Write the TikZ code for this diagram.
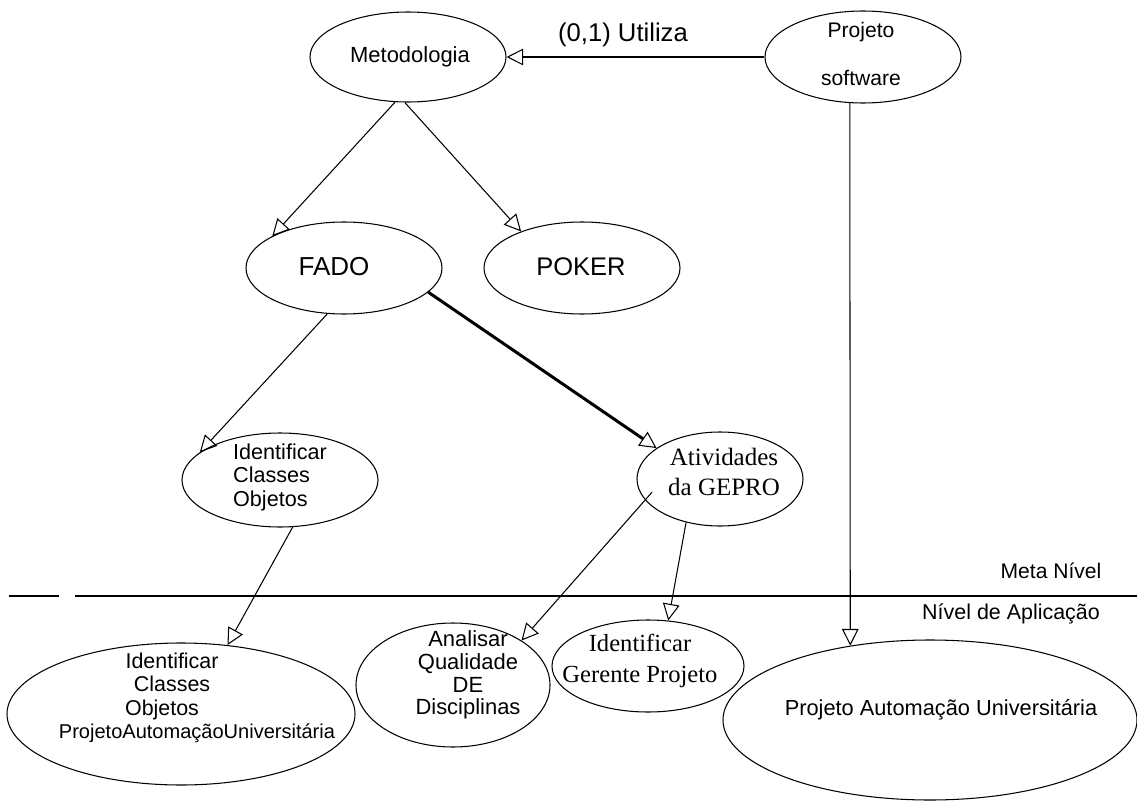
\documentclass[tikz,border=0pt]{standalone}
\usepackage{fontspec}
\setmainfont{Liberation Sans}
\newfontfamily\timesfont{Liberation Serif}
\usetikzlibrary{arrows.meta,shapes.geometric,calc}
\newcommand\fsz[2]{\fontsize{#1}{#2}\selectfont}

\begin{document}
\begin{tikzpicture}[x=0.02cm,y=-0.02cm,
  ell/.style 2 args={draw,ellipse,line width=0.6pt,inner sep=0pt,
    minimum width=#1*0.02cm,minimum height=#2*0.02cm},
  txt/.style={inner sep=0pt,align=center},
  link/.style={line width=0.6pt,-{Triangle[open,length=9.5pt,width=9.5pt,line width=0.6pt]}},
  heavy/.style={link,line width=1.7pt},
  rule/.style={line width=0.6pt}
]
\useasboundingbox (0,0) rectangle (1137,801);

% ellipses
\node[ell={196}{90}]  (met)   at (408,57)  {};
\node[ell={196}{92}]  (psw)   at (863,57)  {};
\node[ell={196}{92}]  (fado)  at (344,268) {};
\node[ell={196}{92}]  (poker) at (582,268) {};
\node[ell={196}{94}]  (icoA)  at (280,480) {};
\node[ell={166}{94}]  (atv)   at (720,479) {};
\node[ell={192}{92}]  (ger)   at (648,666) {};
\node[ell={194}{124}] (ana)   at (453,685) {};
\node[ell={348}{142}] (icoB)  at (181,714) {};
\node[ell={414}{160}] (pau)   at (930,720) {};

% texts
\node[txt,font=\fsz{12.5}{15}] (tmet) at (410,57) {Metodologia};
\node[txt,font=\fsz{12}{27}] (tpsw) at (861,54) {Projeto\\software};
\node[txt,font=\fsz{14.8}{17}] (tfado) at (334,267) {FADO};
\node[txt,font=\fsz{14.5}{17}] (tpoker) at (581,267) {POKER};
\node[txt,align=left,font=\fsz{12.3}{13.4}] (ticoA) at (280,477) {Identificar\\Classes\\Objetos};
\node[txt,font=\timesfont\fsz{14.2}{17}] (tatv) at (724,472) {Atividades\\da GEPRO};
\node[txt,font=\timesfont\fsz{14}{17.6}] (tger) at (640,661) {Identificar\\Gerente Projeto};
\node[txt,font=\fsz{12.5}{12.9}] (tana) at (468,675) {Analisar\\Qualidade\\DE\\Disciplinas};
\node[txt,font=\fsz{12.2}{13.3}] (ticoB) at (197,698)
  {\hbox{Identificar\kern28.4pt}\\\hbox{Classes\kern28.4pt}\\\hbox{Objetos\kern39.8pt}\\{\fsz{11.4}{13.3}ProjetoAutomaçãoUniversitária}};
\node[txt,font=\fsz{12.4}{15}] (tpau) at (941,710) {Projeto Automação Universitária};
\node[txt,font=\fsz{14.6}{17}] (tuse) at (623,35) {(0,1) Utiliza};
\node[txt,font=\fsz{12}{15}] (tmeta) at (1051,571) {Meta Nível};
\node[txt,font=\fsz{12.2}{15}] (tapl) at (1011,614) {Nível de Aplicação};

% separator between the two levels
\draw[rule] (9,596) -- (59,596);
\draw[rule] (75,596) -- (1137,596);

% connectors
\draw[link] (psw.west) -- (met.east);
\draw[link] (met.254) -- (fado.156);
\draw[link] (met.266) -- (poker.149);
\draw[link] (fado.250) -- (icoA.161);
\draw[heavy] (fado.344) -- (atv.154);
\draw[link] (icoA.285) -- (icoB.56);
\draw[link] ($(atv.center)!0.86!(atv.191)$) -- (ana.33);
\draw[link] (atv.232) -- (ger.66);
\draw[link] (psw.254) -- (pau.137);
\end{tikzpicture}
\end{document}
